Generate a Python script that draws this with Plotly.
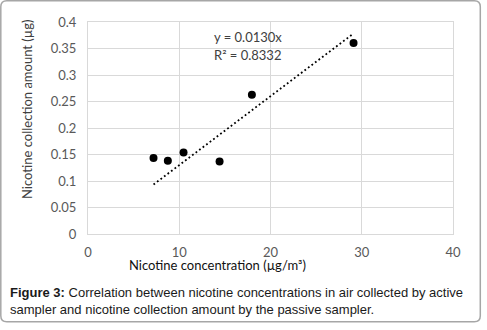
import plotly.graph_objects as go
import numpy as np

# Data
conc = [7.18, 8.75, 10.47, 14.42, 17.96, 29.1]          # Nicotine concentration (µg/m3)
amount = [0.1435, 0.138, 0.154, 0.1366, 0.2627, 0.3605]  # collection amount (µg)
slope = 0.0130
r2 = 0.8332
x_ticks = [0, 10, 20, 30, 40]
y_ticks = [0, 0.05, 0.1, 0.15, 0.2, 0.25, 0.3, 0.35, 0.4]

W, H = 487, 330
L, R, T, B = 88, 34, 22, 96
PW, PH = W - L - R, H - T - B

def px(X):
    return (X - L) / PW

def py(Y):
    return (H - B - Y) / PH

fig = go.Figure()

trend_x = [min(conc), max(conc)]
trend_y = [slope * v for v in trend_x]
fig.add_trace(go.Scatter(x=trend_x, y=trend_y, mode="lines",
                         line=dict(color="black", width=1.8, dash="1.8px,2.6px"),
                         hoverinfo="skip", showlegend=False))
fig.add_trace(go.Scatter(x=conc, y=amount, mode="markers",
                         marker=dict(color="black", size=8),
                         showlegend=False))

tickfont = dict(family="Lato, Open Sans, sans-serif", size=13, color="#595959")
fig.update_xaxes(range=[0, 40], tickvals=x_ticks, ticktext=[str(v) for v in x_ticks],
                 showgrid=True, gridcolor="#d9d9d9", gridwidth=1, zeroline=False,
                 showline=True, linecolor="#d9d9d9", mirror=True,
                 tickfont=tickfont, ticks="", ticklabelstandoff=6)
fig.update_yaxes(range=[0, 0.4], tickvals=y_ticks, ticktext=[f"{v:g}" for v in y_ticks],
                 showgrid=True, gridcolor="#d9d9d9", gridwidth=1, zeroline=False,
                 showline=True, linecolor="#d9d9d9", mirror=True,
                 tickfont=tickfont, ticks="", ticklabelstandoff=8)

# Rounded frame around the whole figure
x0, y0, x1, y1, rr = 0.8, 0.8, 480.3, 321.7, 6
def P(X, Y):
    return f"{px(X):.5f},{py(Y):.5f}"
path = (f"M {P(x0+rr, y0)} L {P(x1-rr, y0)} Q {P(x1, y0)} {P(x1, y0+rr)} "
        f"L {P(x1, y1-rr)} Q {P(x1, y1)} {P(x1-rr, y1)} "
        f"L {P(x0+rr, y1)} Q {P(x0, y1)} {P(x0, y1-rr)} "
        f"L {P(x0, y0+rr)} Q {P(x0, y0)} {P(x0+rr, y0)} Z")
fig.add_shape(type="path", path=path, xref="paper", yref="paper",
              line=dict(color="#a6a6a6", width=1.5), layer="above")

textfont = dict(family="Lato, Open Sans, sans-serif", size=13, color="#404040")
fig.add_annotation(x=px(212), y=py(36.5), xref="paper", yref="paper",
                   text=f"y = {slope:.4f}x", showarrow=False, xanchor="left",
                   yanchor="middle", font=textfont)
fig.add_annotation(x=px(212), y=py(55), xref="paper", yref="paper",
                   text=f"R² = {r2:.4f}", showarrow=False, xanchor="left",
                   yanchor="middle", font=textfont)

fig.add_annotation(x=px(27), y=py(110), xref="paper", yref="paper",
                   text="Nicotine collection amount (µg)", showarrow=False,
                   textangle=-90, xanchor="center", yanchor="middle", font=textfont)
fig.add_annotation(x=px(217), y=py(265), xref="paper", yref="paper",
                   text="Nicotine concentration (µg/m³)", showarrow=False,
                   xanchor="center", yanchor="middle",
                   font=dict(family="Lato, Open Sans, sans-serif", size=13, color="#111111"))

capfont = dict(family="Liberation Sans, Arial, sans-serif", size=13, color="#1a1a1a")
fig.add_annotation(x=px(7.5), y=py(292), xref="paper", yref="paper",
                   text="<b>Figure 3:</b> Correlation between nicotine concentrations in air collected by active",
                   showarrow=False, xanchor="left", yanchor="middle", font=capfont)
fig.add_annotation(x=px(7.5), y=py(309.5), xref="paper", yref="paper",
                   text="sampler and nicotine collection amount by the passive sampler.",
                   showarrow=False, xanchor="left", yanchor="middle", font=capfont)

fig.update_layout(width=W, height=H, margin=dict(l=L, r=R, t=T, b=B),
                  plot_bgcolor="white", paper_bgcolor="white", showlegend=False)

fig.write_html("out.html")
